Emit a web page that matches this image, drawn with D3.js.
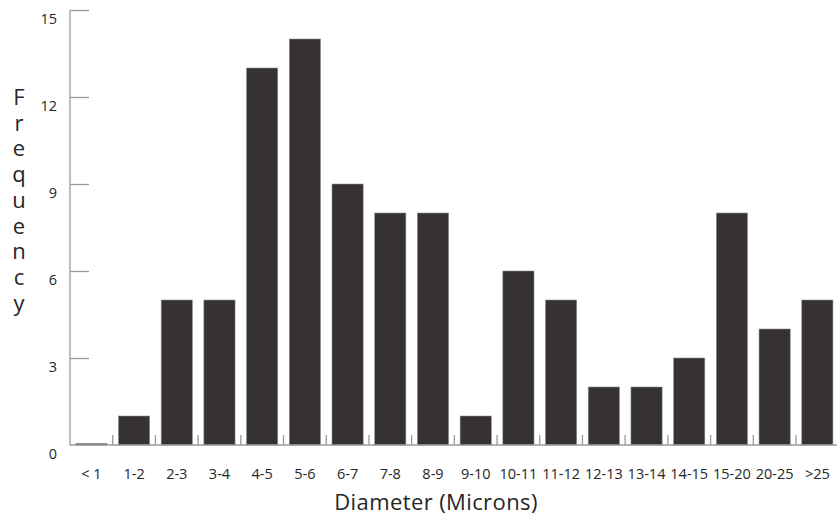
<!DOCTYPE html>
<html><head><meta charset="utf-8">
<script src="https://cdn.jsdelivr.net/npm/d3@7"></script>
<style>body{margin:0;background:#fff;} svg{display:block;}</style>
</head><body>
<svg id="chart" width="837" height="519"></svg>
<script>
const categories = ["< 1","1-2","2-3","3-4","4-5","5-6","6-7","7-8","8-9","9-10","10-11","11-12","12-13","13-14","14-15","15-20","20-25",">25"];
const frequency = [0,1,5,5,13,14,9,8,8,1,6,5,2,2,3,8,4,5];
const yTicks = [0,3,6,9,12,15];
const xTitle = "Diameter (Microns)";
const yTitle = "Frequency";

const svg = d3.select("#chart");
const font = "'Open Sans', sans-serif";
const x = d3.scaleBand().domain(categories).range([70, 838.7]).paddingInner(0.27).paddingOuter(0.135);
const y = d3.scaleLinear().domain([0, 15]).range([445, 10]);

// y axis
const yAxis = svg.append("g").attr("transform", "translate(70,0)")
  .call(d3.axisRight(y).tickValues(yTicks).tickSize(19).tickFormat(""));
yAxis.select(".domain").attr("stroke", "#9a9a9a").attr("stroke-width", 1.3).attr("d", "M0,10V445");
yAxis.selectAll(".tick line").attr("stroke", "#9a9a9a").attr("stroke-width", 1.3);
yAxis.selectAll(".tick").filter(d => d === 0).select("line").remove();

svg.append("g").selectAll("text").data(yTicks).join("text")
  .attr("x", 57).attr("y", d => y(d) + 14)
  .attr("text-anchor", "end").attr("font-family", font).attr("font-size", 14.5)
  .attr("fill", "#262626").text(d => d);

// bars
const step = x.step();
svg.append("g").selectAll("rect").data(categories).join("rect")
  .attr("x", d => x(d)).attr("width", x.bandwidth())
  .attr("y", (d, i) => y(frequency[i]) - (frequency[i] === 0 ? 1.5 : 0))
  .attr("height", (d, i) => y(0) - y(frequency[i]) + (frequency[i] === 0 ? 1.5 : 0))
  .attr("fill", "#363231").attr("stroke", "#8e8e8e").attr("stroke-width", 0.6);

// baseline and separators
const xAxis = svg.append("g").attr("transform", "translate(0,445)")
  .call(d3.axisBottom(x).tickSize(0).tickFormat(""));
xAxis.select(".domain").attr("stroke", "#9a9a9a").attr("stroke-width", 1.3).attr("d", "M70,0H838");
svg.append("g").selectAll("line").data(categories.slice(1)).join("line")
  .attr("x1", d => x(d) - step * x.paddingInner() / 2).attr("x2", d => x(d) - step * x.paddingInner() / 2)
  .attr("y1", 435).attr("y2", 445).attr("stroke", "#9a9a9a").attr("stroke-width", 1.3);

// x labels
svg.append("g").selectAll("text").data(categories).join("text")
  .attr("x", d => x(d) + x.bandwidth() / 2).attr("y", 479)
  .attr("text-anchor", "middle").attr("font-family", font).attr("font-size", 14.5)
  .attr("fill", "#262626").text(d => d);

// x title
svg.append("text").attr("x", 436).attr("y", 510).attr("text-anchor", "middle")
  .attr("font-family", font).attr("font-size", 22).attr("letter-spacing", 0.4)
  .attr("fill", "#262626").text(xTitle);

// y title: upright stacked letters in one text element
svg.append("text").attr("x", 19).attr("y", 81)
  .attr("font-family", font).attr("font-size", 22)
  .style("writing-mode", "vertical-rl").style("text-orientation", "upright")
  .style("letter-spacing", "-4.3px")
  .attr("fill", "#262626").text(yTitle);
</script>
</body></html>
